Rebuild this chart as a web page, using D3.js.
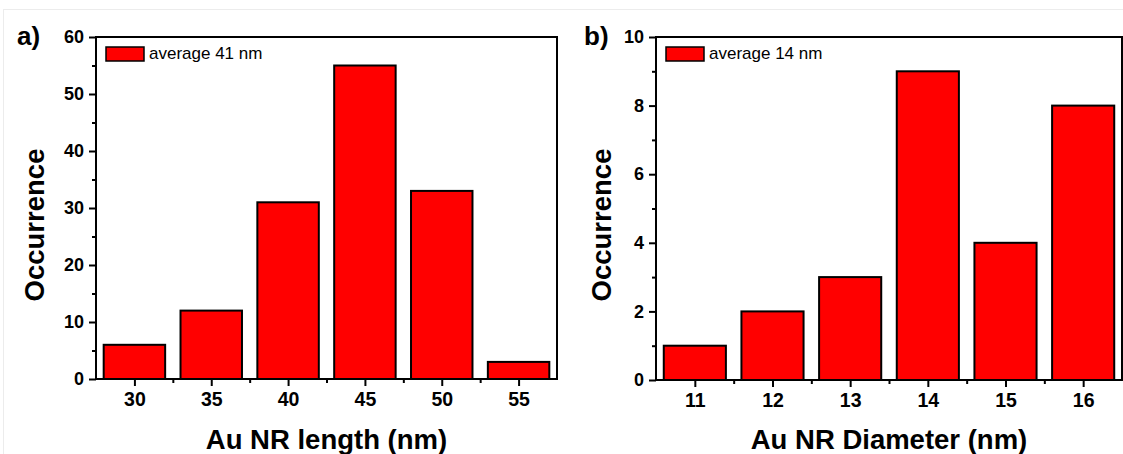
<!DOCTYPE html>
<html><head><meta charset="utf-8">
<script src="https://cdn.jsdelivr.net/npm/d3@7"></script>
<style>body{margin:0;background:#fff}svg{display:block}text{font-family:"Liberation Sans",Arial,sans-serif}</style>
</head><body>
<svg id="c" width="1123" height="454"></svg>
<script>
const lengthBins = [30, 35, 40, 45, 50, 55];
const lengthCounts = [6, 12, 31, 55, 33, 3];
const diameterBins = [11, 12, 13, 14, 15, 16];
const diameterCounts = [1, 2, 3, 9, 4, 8];
const lengthYTicks = [0, 10, 20, 30, 40, 50, 60];
const diameterYTicks = [0, 2, 4, 6, 8, 10];

const svg = d3.select("#c");
// faint outer border
svg.append("rect").attr("x",3.5).attr("y",9.5).attr("width",1130).attr("height",460)
  .attr("fill","none").attr("stroke","#ececec").attr("stroke-width",1);

function panel(o){
  const g = svg.append("g");
  const x = d3.scaleLinear().domain(o.xDomain).range([o.left,o.right]);
  const y = d3.scaleLinear().domain(o.yDomain).range([o.bottom,o.top]);
  // bars
  g.selectAll("rect.bar").data(o.bins).enter().append("rect")
    .attr("x",(d)=>x(d-o.bw/2)).attr("width",(d)=>x(d+o.bw/2)-x(d-o.bw/2))
    .attr("y",(d,i)=>y(o.counts[i])).attr("height",(d,i)=>y(0)-y(o.counts[i]))
    .attr("fill","#ff0000").attr("stroke","#000").attr("stroke-width",2);
  // frame
  g.append("rect").attr("x",o.left).attr("y",o.top).attr("width",o.right-o.left).attr("height",o.bottom-o.top)
    .attr("fill","none").attr("stroke","#000").attr("stroke-width",2);
  // y axis
  const ya = d3.axisLeft(y).tickValues(o.yTicks).tickSize(7).tickPadding(5).tickFormat(d3.format("d"));
  const yg = g.append("g").attr("transform",`translate(${o.left},0)`).call(ya);
  yg.select(".domain").remove();
  yg.selectAll("line").attr("stroke-width",2);
  yg.selectAll("text").attr("font-size",18).attr("font-weight","bold").attr("fill","#000");
  const yMinor = d3.axisLeft(y).tickValues(o.yMinor).tickSize(4).tickFormat("");
  const ym = g.append("g").attr("transform",`translate(${o.left},0)`).call(yMinor);
  ym.select(".domain").remove(); ym.selectAll("line").attr("stroke-width",2);
  // x axis
  const xa = d3.axisBottom(x).tickValues(o.bins).tickSize(7).tickPadding(6).tickFormat(d3.format("d"));
  const xg = g.append("g").attr("transform",`translate(0,${o.bottom})`).call(xa);
  xg.select(".domain").remove();
  xg.selectAll("line").attr("stroke-width",2);
  xg.selectAll("text").attr("font-size",19.5).attr("font-weight","bold").attr("fill","#000");
  const xMinor = d3.axisBottom(x).tickValues(o.xMinor).tickSize(4).tickFormat("");
  const xm = g.append("g").attr("transform",`translate(0,${o.bottom})`).call(xMinor);
  xm.select(".domain").remove(); xm.selectAll("line").attr("stroke-width",2);
  // titles
  g.append("text").attr("x",(o.left+o.right)/2).attr("y",449).attr("text-anchor","middle")
    .attr("font-size",27.5).attr("font-weight","bold").text(o.xTitle);
  g.append("text").attr("transform",`translate(${o.yTitleX},225) rotate(-90)`).attr("text-anchor","middle")
    .attr("font-size",27.5).attr("font-weight","bold").text("Occurrence");
  g.append("text").attr("x",o.labelX).attr("y",45).attr("font-size",26).attr("font-weight","bold").text(o.label);
  // legend
  g.append("rect").attr("x",o.left+10).attr("y",o.top+10).attr("width",38).attr("height",14)
    .attr("fill","#ff0000").attr("stroke","#000").attr("stroke-width",1.5);
  g.append("text").attr("x",o.left+53).attr("y",o.top+22).attr("font-size",17).text(o.legend);
}

panel({left:96,right:557,top:37,bottom:379,xDomain:[27.5,57.5],yDomain:[0,60],bw:4,
  bins:lengthBins,counts:lengthCounts,yTicks:lengthYTicks,yMinor:[5,15,25,35,45,55],
  xMinor:[32.5,37.5,42.5,47.5,52.5],xTitle:"Au NR length (nm)",yTitleX:44,label:"a)",labelX:17,
  legend:"average 41 nm"});
panel({left:656,right:1122,top:37,bottom:380,xDomain:[10.5,16.5],yDomain:[0,10],bw:0.8,
  bins:diameterBins,counts:diameterCounts,yTicks:diameterYTicks,yMinor:[1,3,5,7,9],
  xMinor:[11.5,12.5,13.5,14.5,15.5],xTitle:"Au NR Diameter (nm)",yTitleX:611,label:"b)",labelX:584,
  legend:"average 14 nm"});
</script>
</body></html>
